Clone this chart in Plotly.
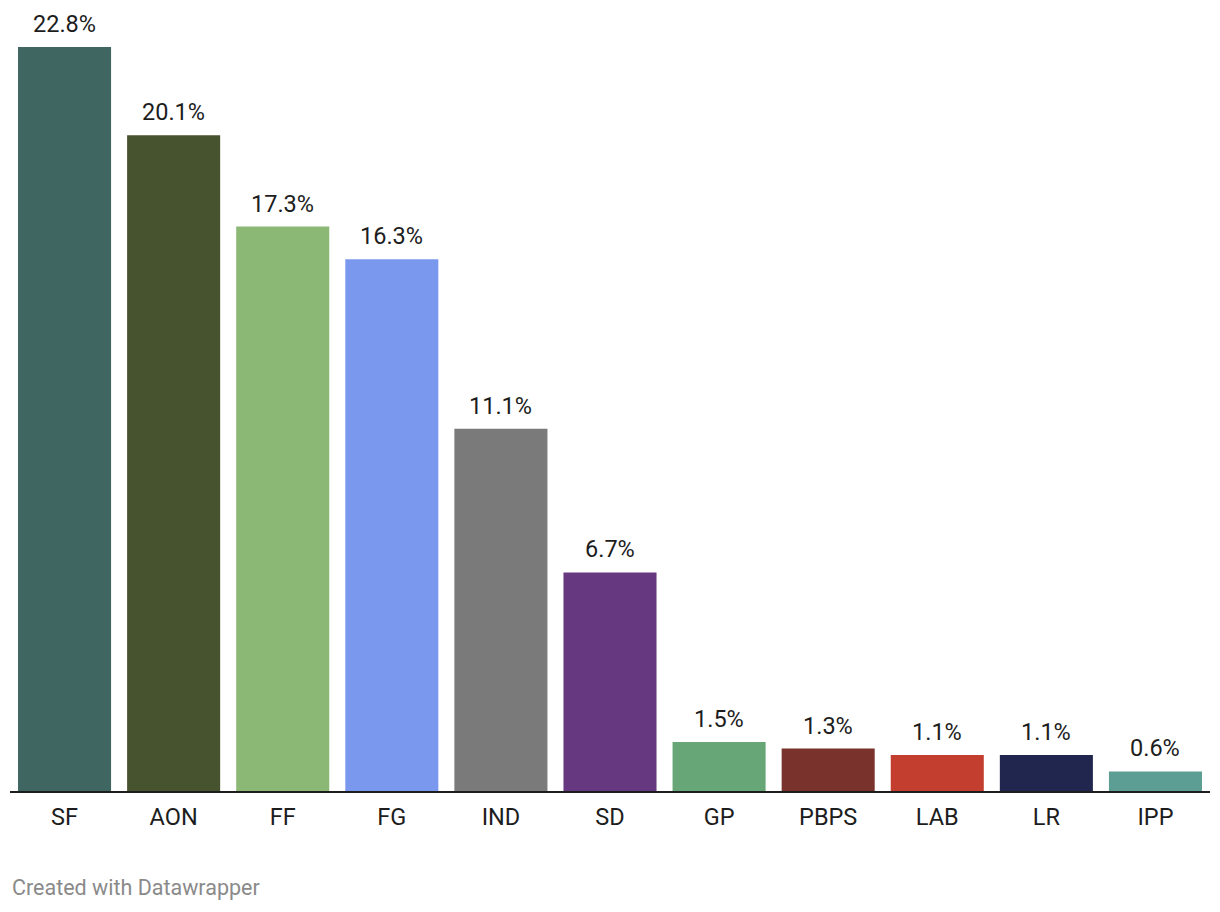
import plotly.graph_objects as go

parties = ["SF", "AON", "FF", "FG", "IND", "SD", "GP", "PBPS", "LAB", "LR", "IPP"]
shares = [22.8, 20.1, 17.3, 16.3, 11.1, 6.7, 1.5, 1.3, 1.1, 1.1, 0.6]
colors = ["#3f6660", "#47532f", "#8bb874", "#7b98ef", "#7a7a7a", "#653880",
          "#67a777", "#7a322c", "#c43e2f", "#20264d", "#5c9e93"]

fig = go.Figure()
fig.add_trace(go.Bar(x=parties, y=shares, marker=dict(color=colors, line=dict(width=0)),
                     hoverinfo="x+y"))

for p, v in zip(parties, shares):
    fig.add_annotation(x=p, y=v, text=f"{v:.1f}%", showarrow=False,
                       yanchor="bottom", yshift=7,
                       font=dict(family="Roboto", size=23.5, color="#1d1d1d"))

fig.add_annotation(x=0, y=0, xref="paper", yref="paper", xanchor="left", yanchor="top",
                   xshift=0, yshift=-82, text="Created with Datawrapper", showarrow=False,
                   font=dict(family="Roboto", size=21.5, color="#8a8a8a"))

fig.update_layout(
    width=1220, height=912,
    margin=dict(l=2, r=18, t=16, b=129),
    paper_bgcolor="white", plot_bgcolor="white",
    bargap=0.147,
    showlegend=False,
    font=dict(family="Roboto", size=23.5, color="#1d1d1d"),
    xaxis=dict(showline=True, linecolor="#1d1d1d", linewidth=2, ticks="",
               ticklabelstandoff=4,
               tickfont=dict(family="Roboto", size=23.5, color="#1d1d1d"),
               showgrid=False, fixedrange=True),
    yaxis=dict(range=[0, 23.506], visible=False, showgrid=False, fixedrange=True),
)
fig.write_html("out.html")
